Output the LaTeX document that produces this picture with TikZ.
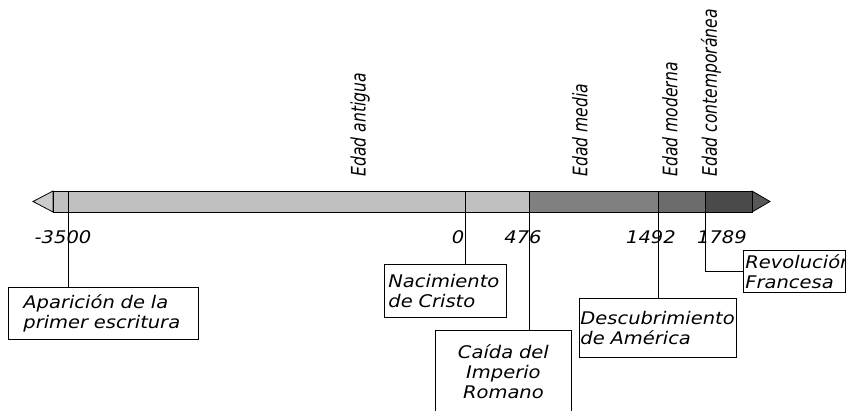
\documentclass[tikz,border=0pt]{standalone}
\usepackage{fontspec}
\setmainfont{DejaVu Sans}
\newfontfamily\boxfont[FakeStretch=1.12]{DejaVu Sans}
\newfontfamily\perfont[FakeStretch=0.78]{DejaVu Sans}
\usetikzlibrary{calc, positioning}

\definecolor{grisA}{RGB}{192,192,192}
\definecolor{grisL}{RGB}{204,204,204}
\definecolor{grisM}{RGB}{128,128,128}
\definecolor{grisMo}{RGB}{108,108,108}
\definecolor{grisC}{RGB}{74,74,74}
\definecolor{grisF}{RGB}{88,88,88}

\begin{document}
\begin{tikzpicture}[x=1pt, y=-1pt, line width=0.8pt,
    evbox/.style={draw, anchor=north west, inner ysep=0pt, align=left,
        font=\boxfont\itshape\fontsize{17.4}{20}\selectfont},
    year/.style={font=\boxfont\itshape\fontsize{17.4}{20}\selectfont},
    period/.style={rotate=90, anchor=west, inner sep=0pt,
        font=\perfont\itshape\fontsize{20}{22}\selectfont}]
        \useasboundingbox (0,0) rectangle (846,410);
        \clip (0,0) rectangle (846,410);

        % the bar
        \draw[fill=grisL] (53,191) -- (33,201.5) -- (53,212) -- cycle;
        \draw[fill=grisF] (752,191) -- (770,201.5) -- (752,212) -- cycle;
        \draw[fill=grisA] (53,191) rectangle (529,212);
        \draw[fill=grisM] (529,191) rectangle (658,212);
        \draw[fill=grisMo] (658,191) rectangle (705,212);
        \draw[fill=grisC] (705,191) rectangle (752,212);

        \coordinate (t3500) at (68,191);
        \coordinate (t0) at (465,191);
        \coordinate (t476) at (529,191);
        \coordinate (t1492) at (658,191);
        \coordinate (t1789) at (705,191);

        % periods
        \node[period] (antigua) at (360,177) {Edad antigua};
        \node[period] (media) at (580,177) {Edad media};
        \node[period] (moderna) at (670,177) {Edad moderna};
        \node[period] (contemp) at (711,177) {Edad contemporánea};

        % years
        \node[year] (y3500) at (63,237) {-3500};
        \node[year] (y0) at (458,237) {0};
        \node[year] (y476) at (523,237) {476};
        \node[year] (y1492) at (651,237) {1492};
        \node[year] (y1789) at (722,237) {1789};

        % events
        \node[evbox, minimum width=190, minimum height=52, inner xsep=15, text width=160] (aparicion) at (8,287) {Aparición de la\\primer escritura};
        \node[evbox, minimum width=122, minimum height=53, inner xsep=4, text width=114] (nacimiento) at (384,264) {Nacimiento\\de Cristo};
        \node[evbox, align=center, minimum width=136, minimum height=82, inner xsep=4, text width=128] (caida) at (435,330) {Caída del\\Imperio\\Romano};
        \node[evbox, minimum width=157, minimum height=59, inner xsep=1, text width=155] (descubrimiento) at (579,298) {Descubrimiento\\de América};
        \node[evbox, minimum width=102, minimum height=42, inner xsep=2, text width=98] (revolucion) at (743,250) {Revolución\\Francesa};

        \draw (t3500) -- (t3500 |- aparicion.north);
        \draw (t0) -- (t0 |- nacimiento.north);
        \draw (t476) -- (t476 |- caida.north);
        \draw (t1492) -- (t1492 |- descubrimiento.north);
        \draw (t1789) |- (revolucion.west);
    \end{tikzpicture}
\end{document}
